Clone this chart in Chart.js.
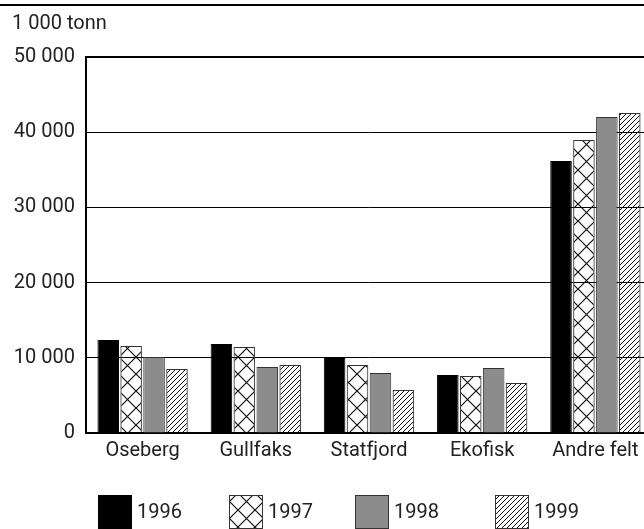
<!DOCTYPE html>
<html><head><meta charset="utf-8">
<script src="https://cdn.jsdelivr.net/npm/chart.js@4"></script>
<style>html,body{margin:0;padding:0;background:#fff;overflow:hidden}#wrap{width:652px;height:529px}</style>
</head><body><div id="wrap"><canvas id="c" width="652" height="529"></canvas></div>
<script>
const categories = ['Oseberg', 'Gullfaks', 'Statfjord', 'Ekofisk', 'Andre felt'];
const seriesNames = ['1996', '1997', '1998', '1999'];
const values1996 = [12370, 11830, 9970, 7710, 36170];
const values1997 = [11570, 11440, 9040, 7580, 38960];
const values1998 = [10100, 8780, 7980, 8640, 42020];
const values1999 = [8510, 9040, 5720, 6650, 42550];
const yTicks = [0, 10000, 20000, 30000, 40000, 50000];
const unitLabel = '1 000 tonn';

const FONT = 'Roboto, "DejaVu Sans", sans-serif';
const TEXT = '#222';

function crossPattern() {
  const s = 17, c = document.createElement('canvas');
  c.width = s; c.height = s;
  const g = c.getContext('2d');
  g.strokeStyle = '#111'; g.lineWidth = 1.2;
  g.beginPath();
  g.moveTo(-2, -2); g.lineTo(s + 2, s + 2);
  g.moveTo(s + 2, -2); g.lineTo(-2, s + 2);
  g.stroke();
  return g.createPattern(c, 'repeat');
}
function hatchPattern() {
  const s = 5, c = document.createElement('canvas');
  c.width = s; c.height = s;
  const g = c.getContext('2d');
  g.strokeStyle = '#111'; g.lineWidth = 1;
  g.beginPath();
  g.moveTo(-1, s + 1); g.lineTo(s + 1, -1);
  g.moveTo(-2, 2); g.lineTo(2, -2);
  g.moveTo(s - 2, s + 2); g.lineTo(s + 2, s - 2);
  g.stroke();
  return g.createPattern(c, 'repeat');
}

const fills = ['#000000', crossPattern(), '#8c8c8c', hatchPattern()];
const borders = ['#000000', '#333333', '#333333', '#333333'];
const seriesValues = [values1996, values1997, values1998, values1999];

// legend layout (box left edges), box size and vertical position
const legendX = [98, 229, 355, 495];
const legendTop = 495, legendBox = 34, legendGap = 5;
const BOTTOM_PAD = 56;

const topRule = {
  id: 'topRule',
  beforeDraw(chart) {
    const c = chart.ctx;
    c.save();
    c.fillStyle = '#000';
    c.fillRect(0, 4, chart.width, 2);
    c.restore();
  }
};

const customLegend = {
  id: 'customLegend',
  afterDraw(chart) {
    const c = chart.ctx;
    c.save();
    chart.data.datasets.forEach((ds, i) => {
      const x = legendX[i];
      c.fillStyle = ds.backgroundColor;
      c.fillRect(x, legendTop, legendBox, legendBox);
      c.strokeStyle = ds.borderColor;
      c.lineWidth = 1;
      c.strokeRect(x + 0.5, legendTop + 0.5, legendBox - 1, legendBox - 1);
      c.fillStyle = TEXT;
      c.font = '20px ' + FONT;
      c.textBaseline = 'middle';
      c.textAlign = 'left';
      c.fillText(ds.label, x + legendBox + legendGap, legendTop + legendBox / 2 + 1);
    });
    c.restore();
  }
};

function fmt(v) {
  return String(v).replace(/\B(?=(\d{3})+(?!\d))/g, ' ');
}

new Chart(document.getElementById('c'), {
  type: 'bar',
  data: {
    labels: categories,
    datasets: seriesNames.map((n, i) => ({
      label: n,
      data: seriesValues[i],
      backgroundColor: fills[i],
      borderColor: borders[i],
      borderWidth: 1,
      categoryPercentage: 0.81,
      barPercentage: 0.94
    }))
  },
  options: {
    responsive: false,
    animation: false,
    layout: { padding: { top: 0, left: 12, right: 0, bottom: BOTTOM_PAD } },
    plugins: {
      title: {
        display: true, text: unitLabel, align: 'start', color: TEXT,
        font: { family: FONT, size: 20, weight: 'normal', lineHeight: 1.2 },
        padding: { top: 12, bottom: 21 }
      },
      legend: { display: false },
      tooltip: { enabled: false }
    },
    scales: {
      x: {
        grid: { display: false, drawTicks: false },
        border: { color: '#000', width: 2 },
        ticks: { padding: 6, color: TEXT, font: { family: FONT, size: 20 } },
        afterFit(s) { s.height = s.chart.height - BOTTOM_PAD - 433; }
      },
      y: {
        min: 0, max: 50000,
        afterBuildTicks(s) { s.ticks = yTicks.map(v => ({ value: v })); },
        afterFit(s) { s.width = 74; },
        grid: {
          color: '#000', drawTicks: false,
          lineWidth: (ctx) => (ctx.tick && ctx.tick.value === 50000 ? 2 : 1)
        },
        border: { color: '#000', width: 2 },
        ticks: {
          padding: 11, color: TEXT, font: { family: FONT, size: 20 },
          callback: (v) => fmt(v)
        }
      }
    }
  },
  plugins: [topRule, customLegend]
});
</script></body></html>
